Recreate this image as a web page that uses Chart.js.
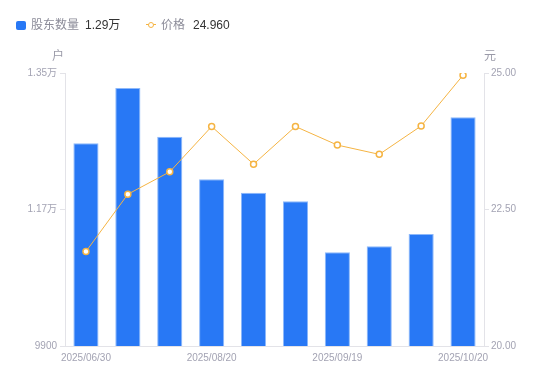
<!DOCTYPE html>
<html>
<head>
<meta charset="utf-8">
<script src="https://cdn.jsdelivr.net/npm/chart.js@4"></script>
<style>
  html, body { margin: 0; padding: 0; background: #fff; }
  #wrap { position: relative; width: 550px; height: 381px; font-family: "Liberation Sans", Arial, "Noto Sans CJK SC", sans-serif; }
  canvas { position: absolute; left: 0; top: 0; }
  .lg { position: absolute; font-size: 12px; line-height: 12px; top: 19px; white-space: nowrap; }
  .lbl { color: #8c8c99; }
  .val { color: #333; }
  #sq { position: absolute; left: 16px; top: 20.5px; width: 10px; height: 9px; background: #2878f5; border-radius: 2px; }
  #ln { position: absolute; left: 146px; top: 24px; width: 10px; height: 1px; background: #f5b443; }
  #cc { position: absolute; left: 148px; top: 21.5px; width: 4px; height: 4px; border: 1.5px solid #f5b443; border-radius: 50%; background: #fff; }
</style>
</head>
<body>
<div id="wrap">
  <canvas id="c" width="550" height="381"></canvas>
  <div id="sq"></div>
  <div class="lg lbl" style="left:31px">股东数量</div>
  <div class="lg val" id="v1" style="left:85px"></div>
  <div id="ln"></div><div id="cc"></div>
  <div class="lg lbl" style="left:161px">价格</div>
  <div class="lg val" id="v2" style="left:193px"></div>
</div>
<script>
const categories = ["2025/06/30","2025/07/10","2025/07/31","2025/08/20","2025/08/31","2025/09/10","2025/09/19","2025/09/30","2025/10/10","2025/10/20"];
const holders = [12573, 13302, 12660, 12098, 11922, 11808, 11136, 11215, 11377, 12916];
const prices = [21.73, 22.78, 23.19, 24.02, 23.33, 24.02, 23.68, 23.51, 24.03, 24.96];
const holderTicks = [9900, 11700, 13500];
const priceTicks = [20, 22.5, 25];
const shownLabelIdx = [0, 3, 6, 9];

const FONT = '"Liberation Sans", Arial, "Noto Sans CJK SC", sans-serif';
const tickColor = '#a3a3b3';
const axisColor = '#e3e3e8';

function fmtHolders(v) {
  return v >= 10000 ? (v / 10000).toFixed(2) + '万' : String(v);
}
document.getElementById('v1').textContent = fmtHolders(holders[holders.length - 1]);
document.getElementById('v2').textContent = prices[prices.length - 1].toFixed(3);

const unitPlugin = {
  id: 'units',
  afterDraw(chart) {
    const ctx = chart.ctx, a = chart.chartArea;
    ctx.save();
    ctx.font = '12px ' + FONT;
    ctx.fillStyle = '#9a9aa8';
    ctx.textAlign = 'center';
    ctx.textBaseline = 'middle';
    ctx.fillText('户', a.left - 7, a.top - 16);
    ctx.fillText('元', a.right + 6, a.top - 16);
    ctx.restore();
  }
};

new Chart(document.getElementById('c'), {
  type: 'bar',
  data: {
    labels: categories,
    datasets: [
      {
        type: 'line',
        label: '价格',
        data: prices,
        yAxisID: 'y1',
        borderColor: '#f5b443',
        borderWidth: 1,
        pointRadius: 3,
        pointBorderWidth: 1.5,
        pointBackgroundColor: '#fff',
        pointBorderColor: '#f5b443',
        tension: 0,
        order: 1
      },
      {
        label: '股东数量',
        data: holders,
        yAxisID: 'y',
        backgroundColor: '#2878f5',
        borderColor: '#8db8fa',
        borderWidth: 1,
        categoryPercentage: 1,
        barPercentage: 0.6,
        order: 2
      }
    ]
  },
  options: {
    responsive: false,
    animation: false,
    devicePixelRatio: 1,
    layout: { padding: { top: 73, left: 0, right: 0, bottom: 0 } },
    plugins: { legend: { display: false }, tooltip: { enabled: false } },
    scales: {
      x: {
        grid: { display: true, drawOnChartArea: false, drawTicks: false, tickLength: 0 },
        border: { display: true, color: axisColor },
        afterFit(s) { s.height = 35; },
        ticks: {
          autoSkip: false,
          maxRotation: 0,
          padding: 6,
          color: tickColor,
          font: { size: 10, family: FONT },
          callback(v, i) { return shownLabelIdx.includes(i) ? categories[i] : ''; }
        }
      },
      y: {
        position: 'left',
        min: holderTicks[0],
        max: holderTicks[holderTicks.length - 1],
        afterFit(s) { s.width = 65; },
        afterBuildTicks(s) { s.ticks = holderTicks.map(v => ({ value: v })); },
        grid: { drawOnChartArea: false, drawTicks: true, tickLength: 5, color: axisColor },
        border: { display: true, color: axisColor },
        ticks: {
          padding: 3,
          color: tickColor,
          font: { size: 10, family: FONT },
          callback(v) { return fmtHolders(v); }
        }
      },
      y1: {
        position: 'right',
        min: priceTicks[0],
        max: priceTicks[priceTicks.length - 1],
        afterFit(s) { s.width = 66; },
        afterBuildTicks(s) { s.ticks = priceTicks.map(v => ({ value: v })); },
        grid: { drawOnChartArea: false, drawTicks: true, tickLength: 5, color: axisColor },
        border: { display: true, color: axisColor },
        ticks: {
          padding: 2,
          color: tickColor,
          font: { size: 10, family: FONT },
          callback(v) { return Number(v).toFixed(2); }
        }
      }
    }
  },
  plugins: [unitPlugin]
});
</script>
</body>
</html>
